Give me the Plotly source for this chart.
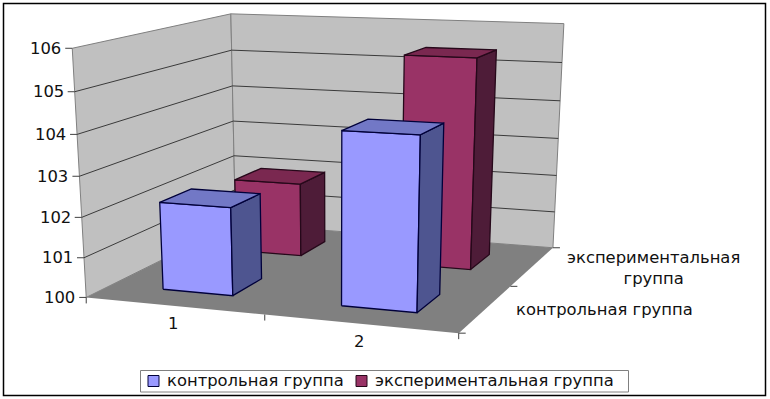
import numpy as np
import plotly.graph_objects as go

categories = ["1", "2"]
series_names = ["контрольная группа", "экспериментальная группа"]
control_values = [102.2, 104.2]
experimental_values = [101.95, 105.42]
value_ticks = [100, 101, 102, 103, 104, 105, 106]

W, H = 770, 399
FONT = "DejaVu Sans"
FSIZE = 16.4
BAR_LO, BAR_HI = 0.3, 0.7

# camera calibration: box corner (cat, series, value) -> picture position
calib = [
    ((0, 0, 100), (86.5, 297)), ((0, 0, 106), (73, 48)), ((0, 2, 100), (235, 224)),
    ((0, 2, 106), (231.5, 13)), ((2, 2, 100), (552, 247)), ((2, 2, 106), (563, 24)),
    ((2, 0, 100), (457, 332)), ((1, 0, 100), (263, 315)), ((2, 1, 100), (515, 287)),
    ((0, 0, 105), (74, 92)), ((0, 0, 103), (80, 177)), ((0, 2, 103), (233, 121)),
    ((2, 2, 103), (558, 139)),
]
A, b = [], []
for (u, v, w), (px, py) in calib:
    A.append([u, v, w, 1, 0, 0, 0, 0, -px * u, -px * v, -px * w])
    b.append(px)
    A.append([0, 0, 0, 0, u, v, w, 1, -py * u, -py * v, -py * w])
    b.append(py)
A = np.array(A, float)
b = np.array(b, float)
P = np.linalg.lstsq(A, b, rcond=None)[0]


def proj(u, v, w):
    d = P[8] * u + P[9] * v + P[10] * w + 1
    return ((P[0] * u + P[1] * v + P[2] * w + P[3]) / d,
            (P[4] * u + P[5] * v + P[6] * w + P[7]) / d)


fig = go.Figure()


def poly(pts, fill, line="rgba(0,0,0,0)", width=0):
    xy = [proj(*p) for p in pts + pts[:1]]
    fig.add_trace(go.Scatter(x=[q[0] for q in xy], y=[q[1] for q in xy], mode="lines",
                             fill="toself", fillcolor=fill,
                             line=dict(color=line, width=width),
                             hoverinfo="skip", showlegend=False))


def seg(a, b, color, width=1):
    p, q = proj(*a), proj(*b)
    fig.add_trace(go.Scatter(x=[p[0], q[0]], y=[p[1], q[1]], mode="lines",
                             line=dict(color=color, width=width),
                             hoverinfo="skip", showlegend=False))


def tick(a, dx, dy):
    p = proj(*a)
    fig.add_trace(go.Scatter(x=[p[0], p[0] + dx], y=[p[1], p[1] + dy], mode="lines",
                             line=dict(color="#404040", width=1),
                             hoverinfo="skip", showlegend=False))


zlo, zhi = value_ticks[0], value_ticks[-1]
ncat, nser = len(categories), len(series_names)
WALL, FLOOR, EDGE, GRID = "#C0C0C0", "#808080", "#808080", "#3a3a3a"

poly([(0, 0, zlo), (0, nser, zlo), (0, nser, zhi), (0, 0, zhi)], WALL, EDGE, 1)
poly([(0, nser, zlo), (ncat, nser, zlo), (ncat, nser, zhi), (0, nser, zhi)], WALL, EDGE, 1)
poly([(0, 0, zlo), (ncat, 0, zlo), (ncat, nser, zlo), (0, nser, zlo)], FLOOR)

for t in value_ticks[1:-1]:
    seg((0, 0, t), (0, nser, t), GRID)
    seg((0, nser, t), (ncat, nser, t), GRID)
for t in value_ticks:
    tick((0, 0, t), -7, 0)
for i in range(ncat + 1):
    tick((i, 0, zlo), 0, 6)
for j in range(nser + 1):
    tick((ncat, j, zlo), 7, 0)


def bar(i, j, val, front, top, side, edge):
    u0, u1 = i + BAR_LO, i + BAR_HI
    v0, v1 = j + BAR_LO, j + BAR_HI
    poly([(u0, v0, zlo), (u1, v0, zlo), (u1, v0, val), (u0, v0, val)], front, edge, 1.3)
    poly([(u1, v0, zlo), (u1, v1, zlo), (u1, v1, val), (u1, v0, val)], side, edge, 1.3)
    poly([(u0, v0, val), (u1, v0, val), (u1, v1, val), (u0, v1, val)], top, edge, 1.3)


for i, val in enumerate(experimental_values):
    bar(i, 1, val, "#993366", "#7A2850", "#4E1C38", "#26081a")
for i, val in enumerate(control_values):
    bar(i, 0, val, "#9999FF", "#7278C6", "#4E5590", "#00003a")

ann = []
for t in value_ticks:
    p = proj(0, 0, t)
    ann.append(dict(x=p[0] - 9, y=p[1], text=str(t), xanchor="right", yanchor="middle"))
for i, c in enumerate(categories):
    p = proj(i + 0.5, 0, zlo)
    ann.append(dict(x=p[0] - 1, y=p[1] + 18, text=c, xanchor="center", yanchor="middle"))
p = proj(ncat, 1.5, zlo)
ann.append(dict(x=p[0] + 121, y=p[1] + 2, text="экспериментальная<br>группа",
                xanchor="center", yanchor="middle"))
p = proj(ncat, 0.5, zlo)
ann.append(dict(x=p[0] + 119, y=p[1] + 1, text="контрольная группа",
                xanchor="center", yanchor="middle"))

# legend: swatch and label per series, inside a framed box
legend_x = [153.5, 361.5]
for name, col, edge, lx in zip(series_names, ["#9999FF", "#993366"], ["#00003a", "#26081a"], legend_x):
    fig.add_trace(go.Scatter(x=[lx], y=[381], mode="markers", name=name, showlegend=False,
                             hoverinfo="name",
                             marker=dict(symbol="square", size=11, color=col,
                                         line=dict(color=edge, width=1))))
    ann.append(dict(x=lx + 11, y=380.5, text=name, xanchor="left", yanchor="middle"))

for a in ann:
    a.update(xref="x", yref="y", showarrow=False, font=dict(family=FONT, size=FSIZE, color="#111"))

fig.update_layout(
    width=W, height=H, margin=dict(l=0, r=0, t=0, b=0),
    paper_bgcolor="white", plot_bgcolor="white", showlegend=False,
    xaxis=dict(range=[0, W], visible=False, fixedrange=True),
    yaxis=dict(range=[H, 0], visible=False, fixedrange=True),
    annotations=ann,
    shapes=[
        dict(type="rect", xref="x", yref="y", x0=3.5, x1=765.5, y0=3.5, y1=395.5,
             line=dict(color="black", width=1.5), layer="below"),
        dict(type="rect", xref="x", yref="y", x0=140.5, x1=628.5, y0=370.5, y1=392,
             line=dict(color="#808080", width=1), fillcolor="white", layer="below"),
    ],
)
fig.write_html("out.html", config=dict(displayModeBar=False),
               post_script="document.body.style.margin='0';document.body.style.overflow='hidden';")
